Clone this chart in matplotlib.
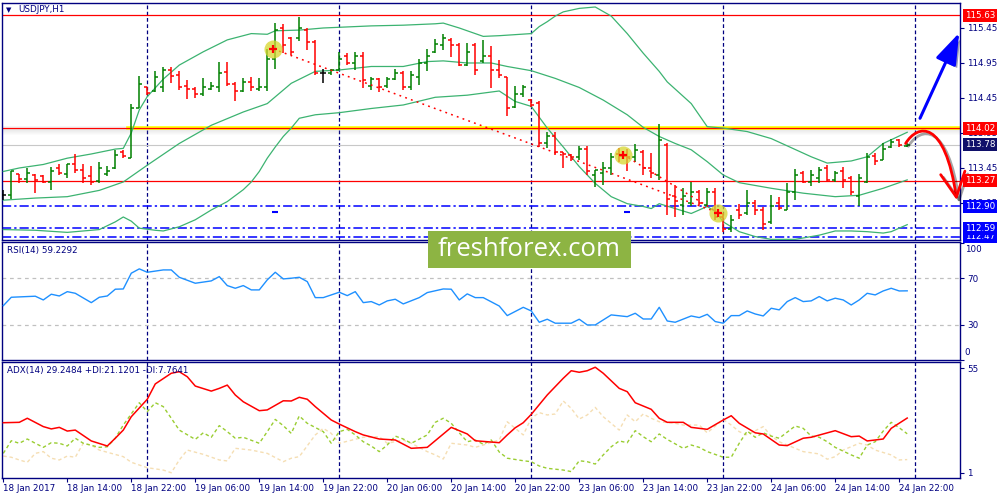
import matplotlib
matplotlib.use("Agg")
import matplotlib.pyplot as plt
import matplotlib.transforms as mtransforms
import matplotlib.patheffects as pe
from matplotlib.patches import FancyArrowPatch, Rectangle
from matplotlib.path import Path

plt.rcParams['font.family'] = ['DejaVu Sans']

NAVY = '#000080'
FS = 6.3

# USDJPY H1 bars, 18 Jan 2017 06:00 .. 24 Jan 2017 23:00 (bar index = hour)
opens = [113.07, 113.06, 113.36, 113.29, 113.35, 113.33, 113.25, 113.45, 113.36, 113.50,
         113.42, 113.33, 113.27, 113.37, 113.45, 113.68, 113.59, 114.30, 114.60, 114.55,
         114.60, 114.85, 114.78, 114.62, 114.58, 114.50, 114.58, 114.60, 114.82, 114.65,
         114.55, 114.68, 114.58, 114.60, 115.00, 115.45, 115.30, 115.30, 115.42, 115.25,
         114.80, 114.80, 114.85, 115.05, 114.95, 115.05, 114.62, 114.72, 114.62, 114.72,
         114.80, 114.60, 114.75, 114.95, 115.10, 115.20, 115.28, 115.20, 114.92, 115.20,
         114.98, 115.05, 114.85, 114.75, 114.32, 114.50, 114.42, 114.38, 113.80, 113.90,
         113.68, 113.63, 113.60, 113.72, 113.35, 113.38, 113.45, 113.65, 113.62, 113.60,
         113.68, 113.45, 113.35, 113.78, 113.05, 112.92, 112.95, 113.10, 112.92, 113.10,
         112.75, 112.58, 112.85, 112.80, 112.95, 112.85, 112.68, 112.95, 112.85, 113.10,
         113.38, 113.25, 113.30, 113.45, 113.28, 113.40, 113.30, 113.05, 113.25, 113.62,
         113.56, 113.75, 113.85, 113.77]
highs = [113.14, 113.40, 113.36, 113.45, 113.36, 113.35, 113.47, 113.51, 113.51, 113.65,
         113.50, 113.48, 113.53, 113.48, 113.70, 113.71, 114.37, 114.76, 114.60, 114.84,
         114.89, 114.89, 114.83, 114.70, 114.60, 114.73, 114.68, 114.97, 114.97, 114.68,
         114.74, 114.75, 114.74, 115.15, 115.52, 115.50, 115.32, 115.60, 115.45, 115.28,
         114.87, 114.87, 115.11, 115.09, 115.11, 115.10, 114.75, 114.73, 114.75, 114.87,
         114.83, 114.84, 115.00, 115.15, 115.29, 115.37, 115.30, 115.24, 115.23, 115.23,
         115.28, 115.19, 114.99, 114.75, 114.62, 114.64, 114.43, 114.41, 113.97, 113.97,
         113.68, 113.65, 113.77, 113.77, 113.42, 113.54, 113.67, 113.73, 113.72, 113.79,
         113.70, 113.66, 114.08, 113.80, 113.20, 113.16, 113.25, 113.14, 113.16, 113.16,
         112.80, 112.78, 112.94, 113.14, 112.99, 112.89, 113.06, 113.04, 113.23, 113.44,
         113.40, 113.42, 113.47, 113.49, 113.41, 113.47, 113.33, 113.37, 113.66, 113.66,
         113.80, 113.87, 113.87, 113.80]
lows = [112.99, 113.00, 113.24, 113.24, 113.09, 113.23, 113.14, 113.35, 113.30, 113.38,
        113.23, 113.20, 113.24, 113.33, 113.43, 113.59, 113.59, 114.30, 114.49, 114.54,
        114.54, 114.66, 114.57, 114.43, 114.45, 114.48, 114.56, 114.54, 114.62, 114.40,
        114.53, 114.55, 114.55, 114.55, 114.87, 115.09, 115.06, 115.27, 115.14, 114.78,
        114.67, 114.78, 114.85, 114.92, 114.85, 114.59, 114.56, 114.53, 114.59, 114.71,
        114.56, 114.56, 114.64, 114.84, 115.09, 115.14, 115.04, 114.90, 114.90, 114.78,
        114.95, 114.59, 114.73, 114.19, 114.30, 114.47, 114.32, 113.75, 113.73, 113.64,
        113.45, 113.55, 113.57, 113.35, 113.18, 113.21, 113.35, 113.54, 113.40, 113.54,
        113.35, 113.30, 113.28, 112.78, 112.75, 112.78, 112.90, 112.92, 112.90, 112.71,
        112.54, 112.54, 112.72, 112.78, 112.78, 112.56, 112.65, 112.85, 112.85, 112.99,
        113.23, 113.19, 113.24, 113.25, 113.25, 113.17, 113.06, 112.90, 113.23, 113.49,
        113.56, 113.73, 113.75, 113.75]
closes = [113.07, 113.40, 113.29, 113.38, 113.28, 113.25, 113.40, 113.38, 113.50, 113.42,
          113.30, 113.25, 113.45, 113.40, 113.63, 113.62, 114.30, 114.65, 114.52, 114.75,
          114.85, 114.76, 114.60, 114.58, 114.50, 114.60, 114.62, 114.80, 114.65, 114.55,
          114.68, 114.60, 114.60, 115.00, 115.42, 115.20, 115.10, 115.45, 115.25, 114.80,
          114.80, 114.85, 115.00, 114.95, 115.05, 114.70, 114.72, 114.60, 114.72, 114.80,
          114.60, 114.78, 114.95, 115.05, 115.22, 115.30, 115.20, 114.92, 115.10, 114.85,
          115.05, 114.85, 114.78, 114.30, 114.50, 114.60, 114.35, 113.80, 113.90, 113.68,
          113.65, 113.60, 113.72, 113.40, 113.42, 113.45, 113.60, 113.62, 113.60, 113.70,
          113.45, 113.38, 113.85, 113.00, 112.98, 113.05, 113.10, 112.95, 113.10, 112.75,
          112.58, 112.70, 112.78, 112.95, 112.85, 112.65, 112.90, 112.88, 113.10, 113.35,
          113.25, 113.35, 113.42, 113.28, 113.38, 113.28, 113.10, 113.30, 113.60, 113.55,
          113.72, 113.82, 113.78, 113.78]

tick_bars = [0, 8, 16, 24, 32, 40, 48, 56, 64, 72, 80, 88, 96, 104, 112]
tick_labels = ['18 Jan 2017', '18 Jan 14:00', '18 Jan 22:00', '19 Jan 06:00',
               '19 Jan 14:00', '19 Jan 22:00', '20 Jan 06:00', '20 Jan 14:00',
               '20 Jan 22:00', '23 Jan 06:00', '23 Jan 14:00', '23 Jan 22:00',
               '24 Jan 06:00', '24 Jan 14:00', '24 Jan 22:00']
day_bars = [18, 42, 66, 90, 114]

# Bollinger bands
bb_up_x = [0, 2, 5, 8, 11, 14, 15, 16, 17, 18, 20, 22, 25, 28, 31, 33, 34, 37, 40, 42,
           46, 50, 54, 55, 57, 60, 62, 66, 67, 68, 69, 70, 72, 74, 76, 78, 80, 82, 83, 86,
           88, 90, 93, 96, 101, 103, 106, 108, 110, 113]
bb_up = [113.40, 113.45, 113.50, 113.59, 113.65, 113.72, 113.73, 113.95, 114.28, 114.47,
         114.72, 114.92, 115.11, 115.28, 115.37, 115.36, 115.41, 115.42, 115.45, 115.46,
         115.48, 115.49, 115.51, 115.52, 115.45, 115.33, 115.34, 115.37, 115.47, 115.54,
         115.62, 115.68, 115.73, 115.75, 115.62, 115.37, 115.09, 114.83, 114.68, 114.37,
         114.04, 114.02, 113.97, 113.87, 113.61, 113.52, 113.55, 113.61, 113.80, 113.96]
bb_mid_x = [0, 4, 8, 12, 15, 18, 22, 26, 30, 33, 36, 39, 42, 46, 50, 53, 55, 58, 61, 63,
            66, 69, 72, 75, 78, 80, 82, 84, 86, 88, 90, 92, 96, 100, 104, 107, 110, 113]
bb_mid = [112.99, 113.02, 113.04, 113.13, 113.25, 113.49, 113.80, 114.06, 114.25, 114.37,
          114.66, 114.83, 114.85, 114.90, 114.90, 114.97, 114.98, 114.95, 114.95, 114.90,
          114.84, 114.73, 114.60, 114.42, 114.21, 114.03, 113.90, 113.80, 113.71, 113.54,
          113.35, 113.24, 113.16, 113.09, 113.04, 113.06, 113.16, 113.28]
bb_lo_x = [0, 4, 8, 12, 14, 15, 16, 17, 19, 20, 22, 24, 26, 28, 30, 31, 32, 33, 34, 35,
           36, 37, 39, 42, 46, 50, 54, 58, 62, 64, 66, 68, 70, 72, 74, 76, 78, 80, 81, 82,
           84, 86, 88, 89, 90, 92, 94, 96, 99, 102, 104, 106, 108, 110, 111, 113]
bb_lo = [112.57, 112.56, 112.53, 112.57, 112.68, 112.75, 112.69, 112.59, 112.56, 112.55,
         112.61, 112.71, 112.85, 112.97, 113.14, 113.25, 113.40, 113.59, 113.75, 113.90,
         114.02, 114.16, 114.21, 114.24, 114.30, 114.35, 114.46, 114.49, 114.55, 114.40,
         114.33, 114.02, 113.75, 113.47, 113.23, 113.04, 112.94, 112.90, 112.87, 112.94,
         112.87, 112.80, 112.90, 112.83, 112.68, 112.54, 112.47, 112.43, 112.43, 112.49,
         112.55, 112.55, 112.54, 112.52, 112.54, 112.64]

# RSI(14)
rsi_x = [0, 1, 4, 5, 6, 7, 8, 9, 11, 12, 13, 14, 15, 16, 17, 18, 20, 21, 22, 24, 26, 27,
         28, 29, 30, 31, 32, 33, 34, 35, 36, 37, 38, 39, 40, 42, 43, 44, 45, 46, 47, 48,
         49, 50, 52, 53, 55, 56, 57, 58, 59, 60, 62, 63, 65, 66, 67, 68, 69, 71, 72, 73,
         74, 76, 78, 79, 80, 81, 82, 83, 84, 86, 87, 88, 89, 90, 91, 92, 93, 94, 95, 96,
         97, 98, 99, 100, 101, 102, 103, 104, 105, 106, 107, 108, 109, 110, 111, 112, 113]
rsi_v = [46.5, 53.7, 54.6, 51.4, 56.3, 54.8, 58.5, 57.1, 49.1, 53.7, 54.8, 60.6, 60.8,
         74.3, 78.0, 75.1, 77.1, 77.1, 70.8, 65.7, 67.7, 71.4, 63.7, 61.4, 63.7, 60.0,
         60.0, 68.6, 75.1, 69.4, 70.0, 70.8, 67.1, 53.4, 53.4, 58.0, 55.1, 58.5, 49.1,
         50.0, 47.1, 50.6, 52.0, 48.0, 53.4, 57.7, 60.8, 60.6, 51.4, 56.6, 53.4, 53.4,
         46.2, 38.0, 45.1, 42.0, 32.3, 34.9, 31.5, 31.5, 34.9, 30.0, 30.0, 38.6, 37.1,
         40.0, 35.1, 35.1, 45.1, 33.4, 32.3, 37.7, 36.3, 39.1, 32.9, 31.5, 38.0, 38.0,
         42.0, 39.4, 37.7, 44.3, 42.9, 50.0, 53.4, 50.0, 50.6, 54.3, 50.6, 52.9, 51.4,
         47.1, 51.4, 57.1, 55.7, 59.1, 61.4, 59.1, 59.2]

# ADX(14), +DI, -DI
adx_x = [0, 2, 3, 5, 6, 7, 8, 9, 11, 13, 14, 15, 16, 18, 19, 21, 22, 23, 24, 26, 27, 28,
         29, 30, 32, 33, 35, 36, 37, 38, 39, 41, 42, 44, 45, 47, 49, 51, 53, 56, 58, 59,
         62, 63, 64, 65, 66, 68, 70, 71, 72, 73, 74, 75, 77, 78, 79, 81, 82, 83, 85, 86,
         88, 90, 91, 92, 94, 95, 97, 98, 100, 101, 104, 106, 107, 108, 110, 111, 113]
adx_v = [26.8, 27.0, 29.1, 24.8, 23.6, 24.4, 22.5, 23.0, 17.4, 14.8, 18.8, 23.0, 29.9,
         38.9, 46.8, 52.3, 53.1, 50.5, 45.7, 43.1, 44.5, 46.2, 41.1, 37.6, 33.0, 33.4,
         38.1, 38.0, 39.9, 38.9, 35.1, 28.2, 26.1, 22.2, 20.5, 18.4, 17.9, 13.6, 14.1,
         24.4, 21.0, 17.5, 16.5, 20.5, 24.2, 26.8, 31.1, 41.1, 49.7, 53.6, 52.8, 53.6,
         55.4, 52.3, 44.5, 42.8, 37.1, 33.7, 29.1, 27.0, 27.0, 24.4, 23.4, 28.2, 30.4,
         26.5, 21.6, 21.0, 15.3, 15.0, 18.8, 19.3, 22.7, 19.6, 19.9, 17.4, 18.4, 23.9, 29.2]
pdi_x = [0, 1, 2, 3, 4, 5, 6, 7, 8, 9, 10, 12, 13, 14, 15, 17, 18, 19, 20, 21, 22, 24, 25,
         26, 27, 28, 29, 30, 32, 33, 34, 35, 36, 37, 38, 40, 41, 42, 43, 44, 45, 46, 47,
         48, 49, 50, 51, 53, 54, 55, 56, 57, 58, 59, 60, 61, 62, 63, 65, 66, 67, 68, 70,
         71, 72, 73, 74, 75, 76, 77, 78, 79, 80, 81, 82, 83, 85, 86, 87, 88, 90, 91, 92,
         93, 94, 95, 96, 97, 99, 100, 101, 102, 103, 104, 106, 107, 108, 109, 110, 111,
         112, 113]
pdi_v = [11.0, 17.5, 16.2, 18.4, 16.2, 14.1, 16.5, 16.2, 14.8, 18.8, 16.2, 14.1, 14.4,
         18.8, 25.6, 37.1, 32.5, 37.1, 35.1, 29.1, 23.0, 18.2, 21.6, 19.3, 25.3, 22.2,
         18.8, 19.3, 16.2, 22.2, 28.5, 25.3, 21.3, 30.3, 26.5, 22.2, 16.2, 22.2, 23.4,
         20.5, 17.0, 14.8, 11.9, 15.3, 19.9, 18.4, 16.2, 20.5, 27.0, 29.1, 26.5, 21.6,
         17.0, 17.9, 15.7, 17.9, 11.7, 8.5, 7.2, 6.7, 4.5, 3.3, 2.4, 1.6, 7.2, 6.7, 5.5,
         10.2, 14.4, 17.4, 16.5, 22.7, 19.6, 17.0, 21.0, 18.2, 13.6, 15.3, 14.1, 11.9,
         9.0, 9.0, 16.2, 22.5, 19.3, 21.6, 19.9, 18.8, 25.1, 23.9, 19.9, 19.3, 17.0, 14.1,
         10.2, 8.5, 15.3, 17.0, 22.5, 27.0, 24.2, 21.1]
mdi_x = [0, 1, 2, 3, 4, 5, 6, 7, 8, 9, 10, 11, 12, 15, 16, 18, 20, 21, 22, 23, 25, 27,
         28, 29, 31, 33, 35, 36, 37, 39, 40, 41, 42, 45, 47, 48, 50, 51, 53, 54, 55, 56,
         58, 59, 60, 62, 63, 64, 65, 66, 67, 68, 69, 70, 71, 72, 73, 74, 75, 77, 78, 79,
         80, 81, 82, 84, 85, 87, 88, 90, 91, 92, 93, 95, 96, 97, 98, 100, 101, 102, 103,
         104, 105, 107, 108, 109, 111, 112, 113]
mdi_v = [9.6, 9.0, 7.6, 6.4, 11.0, 11.9, 8.5, 7.6, 9.6, 9.0, 16.2, 15.3, 12.7, 9.3, 6.4,
         3.6, 2.4, 1.0, 7.6, 12.7, 10.5, 7.6, 7.1, 13.6, 12.7, 11.0, 6.7, 8.5, 9.3, 20.5,
         23.9, 21.3, 16.2, 19.3, 19.6, 16.2, 17.9, 16.2, 11.9, 10.2, 8.1, 16.2, 15.3,
         14.1, 15.3, 17.9, 27.3, 23.9, 20.5, 29.1, 32.0, 30.8, 31.3, 38.0, 34.2, 28.7,
         30.8, 34.7, 29.9, 23.0, 30.8, 27.3, 31.3, 29.1, 27.3, 26.5, 25.6, 25.6, 21.6,
         28.5, 25.6, 22.2, 20.5, 24.8, 19.9, 17.0, 15.3, 11.9, 11.3, 10.7, 8.0, 9.3, 12.7,
         16.2, 15.3, 12.7, 10.2, 7.6, 7.8]

# levels and analyst marks
price_ticks = [115.45, 114.95, 114.45, 113.95, 113.45, 112.95]
resist_hi = 115.63
key_level = 114.02
support = 113.27
last_price = 113.78
blue_levels = [112.90, 112.59, 112.47]
mark_x = [33.75, 77.5, 89.4]
mark_y = [115.15, 113.64, 112.81]
frac_x = [34, 78]
frac_y = [112.82, 112.82]

fig = plt.figure(figsize=(10, 5), dpi=100)
L, W = 0.0023, 0.9577
ax = fig.add_axes([L, 0.520, W, 0.474])
ax_rsi = fig.add_axes([L, 0.280, W, 0.236], sharex=ax)
ax_adx = fig.add_axes([L, 0.044, W, 0.232], sharex=ax)

for a in (ax, ax_rsi, ax_adx):
    for s in a.spines.values():
        s.set_color(NAVY)
        s.set_linewidth(1.0)
    a.yaxis.tick_right()
    a.tick_params(axis='y', direction='out', length=3, width=0.8, color=NAVY,
                  labelcolor=NAVY, labelsize=FS, pad=2)
    a.tick_params(axis='x', bottom=False, labelbottom=False)
    for d in day_bars:
        a.axvline(d, color=NAVY, lw=0.9, ls=(0, (3, 2)), zorder=1)

ax.set_xlim(-0.125, 119.6)

# ---- main price panel ----
ax.set_ylim(112.421, 115.807)
ax.set_yticks(price_ticks)
ax.set_yticklabels([f'{v:.2f}' for v in price_ticks])

ax.axhline(last_price, color='#C8C8C8', lw=0.8, zorder=1.5)
ax.axhline(resist_hi, color='red', lw=0.9, zorder=2)
ax.axhline(support, color='red', lw=0.9, zorder=2)
for k in range(7):
    ax.axhspan(key_level - 0.015 * (k + 1), key_level - 0.015 * k, color='gray',
               alpha=0.22 * (1 - k / 7), lw=0, zorder=1.6)
ax.axhspan(key_level, key_level + 0.03, color='gray', alpha=0.08, lw=0, zorder=1.6)
ax.axhline(key_level, xmin=0.131, color='#FFFF00', lw=2.6, zorder=2)
ax.axhline(key_level, color='red', lw=0.9, zorder=2.1)
for lv in blue_levels:
    ax.axhline(lv, color='#0000FF', lw=1.1, ls=(0, (6, 2, 1.5, 2)), zorder=2)

ax.plot(bb_up_x, bb_up, color='#3CB371', lw=0.9, zorder=3)
ax.plot(bb_mid_x, bb_mid, color='#3CB371', lw=0.9, zorder=3)
ax.plot(bb_lo_x, bb_lo, color='#3CB371', lw=0.9, zorder=3)

xs = list(range(len(closes)))
cols = ['#008000' if c > o else '#FF0000' if c < o else 'black'
        for o, c in zip(opens, closes)]
ax.vlines(xs, lows, highs, colors=cols, lw=1.1, zorder=4)
ax.hlines(opens, [x - 0.36 for x in xs], xs, colors=cols, lw=1.1, zorder=4)
ax.hlines(closes, xs, [x + 0.36 for x in xs], colors=cols, lw=1.1, zorder=4)

# trend lines and marks
ax.plot([mark_x[0], mark_x[2]], [mark_y[0], mark_y[2]], color='red', lw=1.1,
        ls=(0, (1.2, 2.8)), zorder=5)
ax.plot([mark_x[1], mark_x[2]], [mark_y[1], mark_y[2]], color='red', lw=1.1,
        ls=(0, (1.2, 2.8)), zorder=5)
ax.plot(mark_x, mark_y, 'o', ms=13, mfc='#d6d62e', mec='none', alpha=0.75, zorder=6)
ax.plot(mark_x, mark_y, '+', ms=6, mew=1.6, color='red', zorder=7)
ax.plot(frac_x, frac_y, '_', ms=5, mew=1.5, color='#0000FF', zorder=5)

# right-hand price boxes
trans = mtransforms.blended_transform_factory(ax.transAxes, ax.transData)
boxes = [(resist_hi, '#FF0000'), (key_level, '#FF0000'), (last_price, '#10106a'),
         (support, '#FF0000'), (blue_levels[0], '#0000FF'), (blue_levels[2], '#0000FF'),
         (blue_levels[1], '#0000FF')]
for i, (v, fc) in enumerate(boxes):
    ax.text(1.005, v, f'{v:.2f}', transform=trans, color='white', fontsize=FS,
            va='center', ha='left', clip_on=False, zorder=10 + i,
            bbox=dict(boxstyle='square,pad=0.22', fc=fc, ec='none'))

# forecast arrows
blue_arrow = FancyArrowPatch((114.6, 114.16), (119.5, 115.38),
                             arrowstyle='-|>,head_length=1.6,head_width=0.55',
                             mutation_scale=12, lw=2.2, color='#0000FF',
                             shrinkA=0, shrinkB=0, clip_on=False, zorder=9)
blue_arrow.set_path_effects([pe.SimplePatchShadow(offset=(2, -2), alpha=0.4), pe.Normal()])
ax.add_patch(blue_arrow)
red_path = Path([(112.8, 113.80), (114.3, 114.08), (117.7, 114.16), (119.2, 112.99)],
                [Path.MOVETO, Path.CURVE4, Path.CURVE4, Path.CURVE4])
red_arrow = FancyArrowPatch(path=red_path, arrowstyle='->,head_length=0.8,head_width=0.4',
                            mutation_scale=22, lw=2.0, color='#FF0000', fill=False,
                            clip_on=False, zorder=9)
red_arrow.set_path_effects([pe.SimpleLineShadow(offset=(2, -2), alpha=0.35), pe.Normal()])
ax.add_patch(red_arrow)

# ---- RSI panel ----
ax_rsi.set_ylim(0, 101)
ax_rsi.axhline(70, color='#C0C0C0', lw=0.9, ls=(0, (3, 3)), zorder=1)
ax_rsi.axhline(30, color='#C0C0C0', lw=0.9, ls=(0, (3, 3)), zorder=1)
ax_rsi.plot(rsi_x, rsi_v, color='#1E90FF', lw=1.0, zorder=3)
ax_rsi.set_yticks([100, 70, 30, 0])
ax_rsi.set_yticklabels(['', '70', '30', ''])
trans_r = mtransforms.blended_transform_factory(ax_rsi.transAxes, ax_rsi.transData)
ax_rsi.text(1.005, 95, '100', transform=trans_r, color=NAVY, fontsize=FS,
            va='center', ha='left', clip_on=False)
ax_rsi.text(1.005, 6, '0', transform=trans_r, color=NAVY, fontsize=FS,
            va='center', ha='left', clip_on=False)

# ---- ADX panel ----
ax_adx.set_ylim(-1.7, 58.1)
ax_adx.plot(mdi_x, mdi_v, color='#F5DEB3', lw=1.0, ls=(0, (2.5, 2)), zorder=2)
ax_adx.plot(pdi_x, pdi_v, color='#9ACD32', lw=1.0, ls=(0, (2.5, 2)), zorder=2)
ax_adx.plot(adx_x, adx_v, color='#FF0000', lw=1.1, zorder=3)
ax_adx.set_yticks([55, 1])
ax_adx.set_yticklabels(['55', '1'])
ax_adx.set_xticks(tick_bars)
ax_adx.set_xticklabels(tick_labels, ha='left')
ax_adx.tick_params(axis='x', bottom=True, labelbottom=True, direction='out', length=3,
                   width=0.8, color=NAVY, labelcolor=NAVY, labelsize=FS, pad=1.5)

# panel captions
fig.text(0.006, 1 - 10 / 500, '\u25bc', fontsize=5, color=NAVY, va='center', ha='left')
fig.text(0.018, 1 - 10 / 500, 'USDJPY,H1', fontsize=FS, color=NAVY, va='center', ha='left')
fig.text(0.007, 1 - 251 / 500, 'RSI(14) 59.2292', fontsize=FS, color=NAVY, va='center')
fig.text(0.007, 1 - 371 / 500, 'ADX(14) 29.2484 +DI:21.1201 -DI:7.7641', fontsize=FS,
         color=NAVY, va='center', zorder=6)

# watermark
fig.patches.append(Rectangle((0.428, 1 - 268 / 500), 0.203, 37 / 500,
                             transform=fig.transFigure, fc='#8db443', ec='none', zorder=5))
fig.text(0.5295, 1 - 250 / 500, 'freshforex.com', color='white', fontsize=18.5,
         family=['Open Sans', 'DejaVu Sans'], ha='center', va='center', zorder=6)

fig.savefig('out.png', dpi=100)
